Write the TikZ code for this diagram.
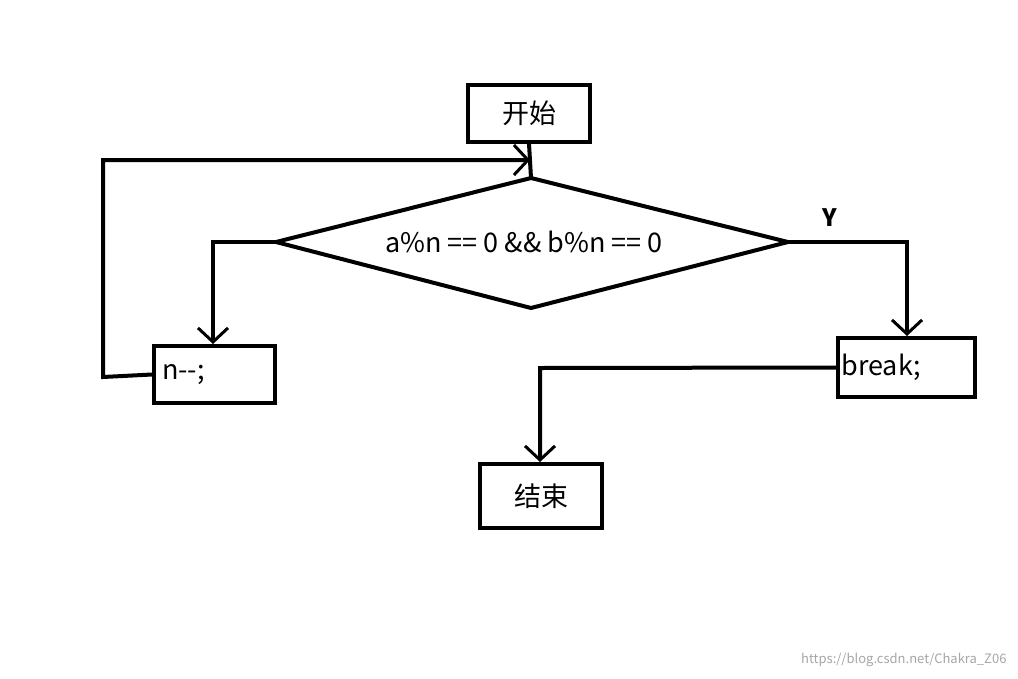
\documentclass[tikz,border=0pt]{standalone}
\usepackage{fontspec}
\setmainfont{Noto Sans CJK SC}
\usetikzlibrary{arrows.meta}
\begin{document}
\begin{tikzpicture}[x=1pt,y=-1pt,
  box/.style={draw,line width=4pt,inner sep=0pt,font=\fontsize{27}{30}\selectfont},
  ln/.style={line width=4pt},
  arr/.style={ln,-{Straight Barb[length=14pt,width=30pt,line width=3pt]}}]
\useasboundingbox (0,0) rectangle (1018,678);
\node[box,minimum width=122pt,minimum height=57pt] (start) at (529,113) {开始};
\coordinate (dt) at (531,178);
\coordinate (dl) at (276,242);
\coordinate (dr) at (788,242);
\coordinate (db) at (531,308);
\draw[ln,line join=miter] (dt) -- (dr) -- (db) -- (dl) -- cycle;
\node[font=\fontsize{27}{30}\selectfont] (cond) at (524,242) {a\%n == 0 \&\& b\%n == 0};
\node[box,minimum width=121pt,minimum height=57pt,text width=105pt,align=left] (dec) at (214.5,374.5) {n-{}-;};
\node[box,minimum width=137pt,minimum height=59pt,text width=130pt,align=left] (brk) at (906.5,367.5) {break;};
\node[box,minimum width=122pt,minimum height=64pt] (end) at (541,496) {结束};
\draw[ln] (start.south) -- (dt);
\coordinate (j) at (530,160);
\draw[arr] (dec.west) -- (103,377) -- (103,160) -- (j);
\draw[arr] (dl) -- (213,242) -- (dec.north -| 213,0);
\draw[arr] (dr) -- (907,242) -- (brk.north -| 907,0);
\node[font=\bfseries\fontsize{24}{26}\selectfont] (y) at (830,218) {Y};
\draw[arr] (brk.west) -- (540,368) -- (end.north -| 540,0);
\node[text=gray!70,font=\fontsize{13}{15}\selectfont,anchor=east] (wm) at (1010,660) {https://blog.csdn.net/Chakra\_Z06};
\end{tikzpicture}
\end{document}
